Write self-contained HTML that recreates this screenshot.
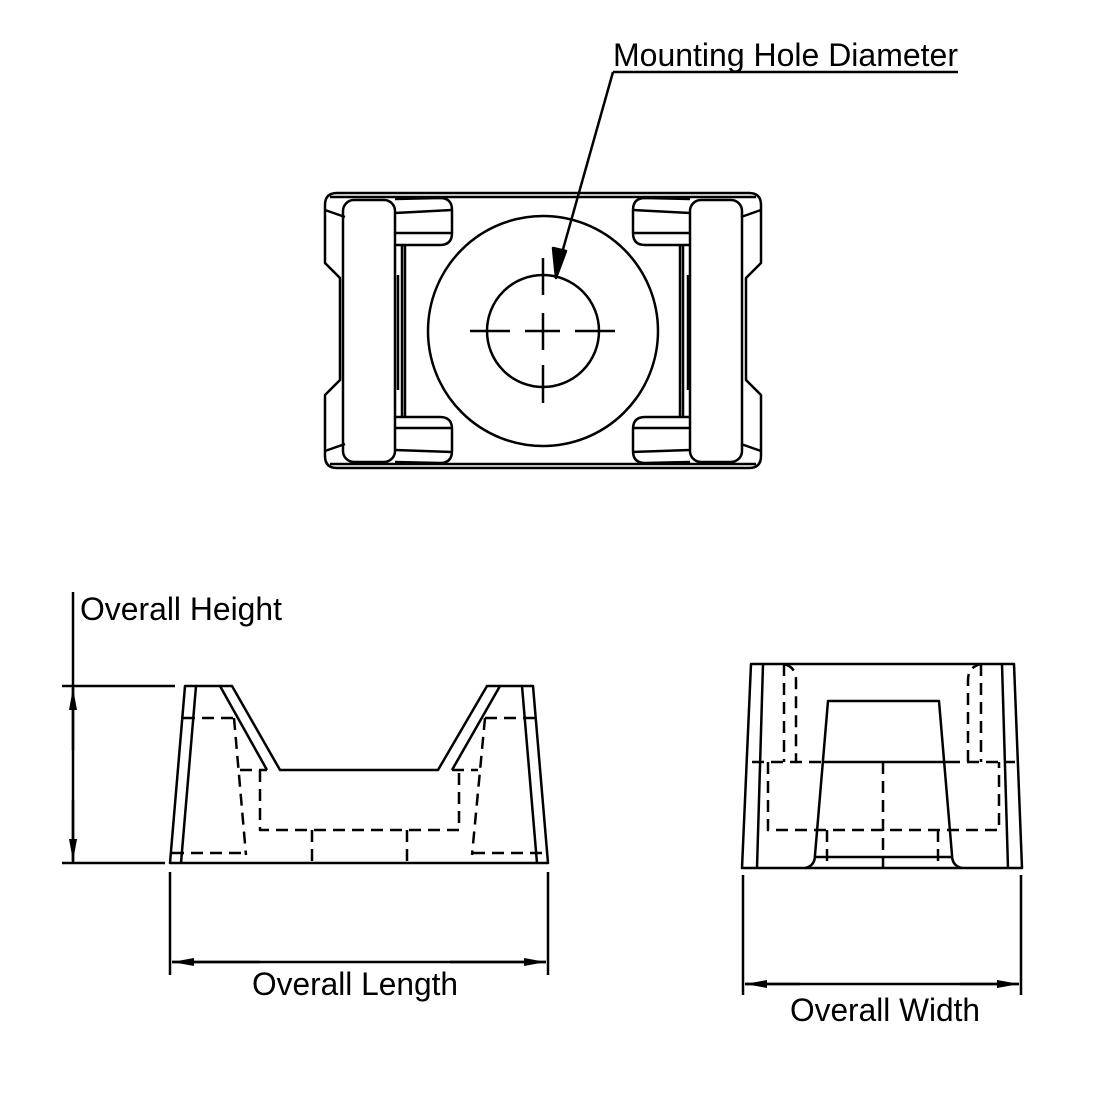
<!DOCTYPE html>
<html><head><meta charset="utf-8"><style>
html,body{margin:0;padding:0;background:#fff;}
svg{display:block;}
text{font-family:"Liberation Sans",sans-serif;font-size:32px;fill:#000;}
</style></head><body>
<svg width="1100" height="1100" viewBox="0 0 1100 1100" xmlns="http://www.w3.org/2000/svg">
<defs>
<marker id="ar" viewBox="0 0 22 8" refX="22" refY="4" markerWidth="22" markerHeight="8" markerUnits="userSpaceOnUse" orient="auto-start-reverse">
<path d="M0,0 L22,4 L0,8 z" fill="#000"/></marker>
</defs>
<g fill="none" stroke="#000" stroke-width="2.5" stroke-linejoin="round">
<!-- TOP VIEW -->
<path d="M337,193 L749,193 Q761,193 761,205 L761,263 L746,278 L746,380 L761,395 L761,456 Q761,468 749,468 L337,468 Q325,468 325,456 L325,395 L340,380 L340,278 L325,263 L325,205 Q325,193 337,193 Z"/>
<path d="M330,197 L756,197"/><path d="M330,464 L756,464"/>
<path d="M325,210 L345,217"/><path d="M761,210 L741,217"/>
<path d="M325,451 L345,444"/><path d="M761,451 L741,444"/>
<rect x="343" y="200" width="52" height="262" rx="11"/>
<rect x="690" y="200" width="52" height="262" rx="11"/>
<path d="M395,199 L440,198 Q452,198 452,210 L452,233 Q452,245 440,245 L395,245"/>
<path d="M395,213 L452,210"/><path d="M395,233 L452,233"/>
<path d="M395,417 L440,417 Q452,417 452,429 L452,451 Q452,463 440,463 L395,462"/>
<path d="M395,428 L452,428"/><path d="M395,450 L452,452"/>
<path d="M690,199 L645,198 Q633,198 633,210 L633,233 Q633,245 645,245 L690,245"/>
<path d="M690,213 L633,210"/><path d="M690,233 L633,233"/>
<path d="M690,417 L645,417 Q633,417 633,429 L633,451 Q633,463 645,463 L690,462"/>
<path d="M690,428 L633,428"/><path d="M690,450 L633,452"/>
<path d="M402,245 L402,417 M405,245 L405,417"/>
<path d="M683,245 L683,417 M680,245 L680,417"/>
<path d="M398,275 L398,390 M688,275 L688,390"/>
<circle cx="543" cy="331" r="115"/>
<circle cx="543" cy="331" r="56"/>
<path d="M470,331 L510,331 M525,331 L560,331 M575,331 L615,331" />
<path d="M543,258 L543,295 M543,313 L543,350 M543,365 L543,403"/>
<!-- leader -->
<path d="M613,72 L958,72"/>
<path d="M613,72 L560,260"/>
<path d="M556,278 L553,248 L566,251 Z" fill="#000"/>

<!-- FRONT VIEW -->
<path d="M185,686 L232,686 L280,770 L438,770 L487,686 L533,686 L548,863 L170,863 Z"/>
<path d="M196,686 L181,863 M522,686 L537,863"/>
<path d="M220,686 L267,770 M500,686 L452,770"/>
<g stroke-dasharray="12,7">
<path d="M183,718 L233,718 M485,718 L535,718"/>
<path d="M234,718 L246,855 M485,718 L472,855"/>
<path d="M240,770 L267,770 M452,770 L478,770"/>
<path d="M260,770 L260,830 L459,830 L459,770"/>
<path d="M312,830 L312,863 M407,830 L407,863"/>
<path d="M172,853 L246,853 M473,853 L547,853"/>
</g>
<!-- dims height -->
<path d="M73,592 L73,863"/>
<path d="M62,686 L175,686 M62,863 L165,863"/>
<path d="M73,750 L73,688" marker-end="url(#ar)"/>
<path d="M73,800 L73,861" marker-end="url(#ar)"/>
<!-- length -->
<path d="M170,872 L170,975 M548,872 L548,975"/>
<path d="M260,962 L172,962" marker-end="url(#ar)"/>
<path d="M450,962 L546,962" marker-end="url(#ar)"/>
<path d="M172,962 L546,962"/>

<!-- SIDE VIEW -->
<path d="M751,664 L1014,664 L1022,868 L742,868 Z"/>
<path d="M763,664 L757,868 M1002,664 L1008,868"/>
<path d="M805,868 Q815,866 815,855 L828,701 L939,701 L952,855 Q952,866 962,868"/>
<path d="M815,857 L952,857"/>
<path d="M822,762 L948,762"/>
<g stroke-dasharray="12,7">
<path d="M752,762 L822,762 M948,762 L1015,762"/>
<path d="M768,762 L768,830 L999,830 L999,762"/>
<path d="M883,762 L883,868"/>
<path d="M827,830 L827,868 M938,830 L938,868"/>
<path d="M784,664 L784,762 M968,762 L968,680 Q968,667 981,664"/>
<path d="M784,664 Q796,667 796,680 L796,762 M981,664 L981,762"/>
</g>
<!-- width dims -->
<path d="M743,875 L743,995 M1021,875 L1021,995"/>
<path d="M745,984 L1019,984"/>
<path d="M800,984 L745,984" marker-end="url(#ar)"/>
<path d="M960,984 L1019,984" marker-end="url(#ar)"/>
</g>
<text x="613" y="66" textLength="345" lengthAdjust="spacingAndGlyphs">Mounting Hole Diameter</text>
<text x="80" y="620" textLength="202" lengthAdjust="spacingAndGlyphs">Overall Height</text>
<text x="252" y="995" textLength="206" lengthAdjust="spacingAndGlyphs">Overall Length</text>
<text x="790" y="1021" textLength="190" lengthAdjust="spacingAndGlyphs">Overall Width</text>
</svg>
</body></html>
